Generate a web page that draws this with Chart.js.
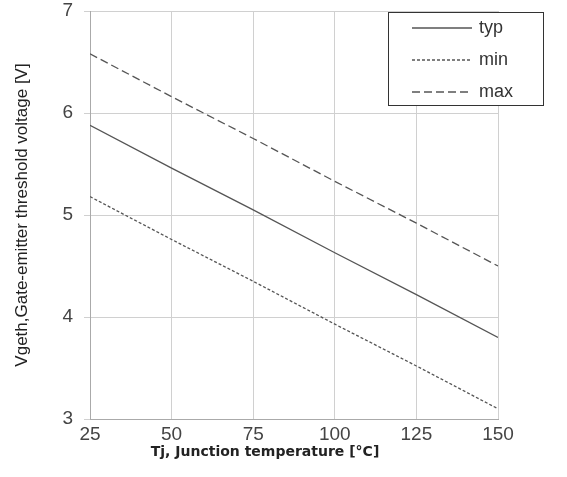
<!DOCTYPE html>
<html>
<head>
<meta charset="utf-8">
<script src="https://cdn.jsdelivr.net/npm/chart.js@4/dist/chart.umd.min.js"></script>
<style>
	html, body { margin: 0; padding: 0; background: #ffffff; }
	#wrap { width: 567px; height: 477px; }
</style>
</head>
<body>
<div id="wrap"><canvas id="vgeth"></canvas></div>
<script>
// junction temperature [°C]
const temps = [25, 50, 75, 100, 125, 150];
// gate-emitter threshold voltage [V]
const typValues = [5.88, 5.46, 5.05, 4.63, 4.22, 3.80];
const minValues = [5.18, 4.76, 4.35, 3.93, 3.52, 3.10];
const maxValues = [6.58, 6.16, 5.75, 5.33, 4.92, 4.50];
const seriesLabels = ["typ", "min", "max"];
const xTitle = "Tj, Junction temperature [°C]";
const yTitle = "Vgeth,Gate-emitter threshold voltage [V]";

const lineColour = "#555555";
const gridColour = "#d0d0d0";
const textColour = "#444444";
const tickFont = { family: "'Liberation Sans', Arial, sans-serif", size: 19 };

function toPoints(values) {
	return temps.map((t, i) => ({ x: t, y: values[i] }));
}

// legend box inside the plot area (top right) and the x axis title
const boxLegend = {
	id: "boxLegend",
	afterDraw(chart) {
		const ctx = chart.ctx;
		const x0 = 388, y0 = 12, w = 155, h = 93;
		ctx.save();
		ctx.fillStyle = "#ffffff";
		ctx.fillRect(x0, y0, w, h);
		ctx.strokeStyle = "#333333";
		ctx.lineWidth = 1;
		ctx.strokeRect(x0 + 0.5, y0 + 0.5, w, h);
		ctx.font = "18px 'Liberation Sans', Arial, sans-serif";
		ctx.textBaseline = "middle";
		chart.data.datasets.forEach((ds, i) => {
			const y = 28 + i * 32;
			ctx.beginPath();
			ctx.setLineDash(ds.borderDash || []);
			ctx.strokeStyle = ds.borderColor;
			ctx.lineWidth = ds.borderWidth;
			ctx.moveTo(412, y);
			ctx.lineTo(472, y);
			ctx.stroke();
			ctx.setLineDash([]);
			ctx.fillStyle = "#333333";
			ctx.fillText(ds.label, 479, y);
		});
		// x axis title, set a little left of the plot centre like the original
		ctx.font = "bold 14px 'DejaVu Sans', sans-serif";
		ctx.fillStyle = "#222222";
		ctx.textAlign = "center";
		ctx.fillText(xTitle, 265, 452);
		ctx.restore();
	},
};

const ctx = document.getElementById("vgeth");
new Chart(ctx, {
	type: "line",
	data: {
		datasets: [
			{ label: seriesLabels[0], data: toPoints(typValues), borderColor: lineColour, borderWidth: 1.3, borderDash: [], pointRadius: 0 },
			{ label: seriesLabels[1], data: toPoints(minValues), borderColor: lineColour, borderWidth: 1.3, borderDash: [3, 2], pointRadius: 0 },
			{ label: seriesLabels[2], data: toPoints(maxValues), borderColor: lineColour, borderWidth: 1.3, borderDash: [8, 4], pointRadius: 0 },
		],
	},
	options: {
		responsive: true,
		maintainAspectRatio: false,
		animation: false,
		layout: {
			padding: { top: 11, right: 69, bottom: 14, left: 12 },
		},
		plugins: {
			legend: { display: false },
			tooltip: { enabled: false },
		},
		scales: {
			x: {
				type: "linear",
				min: 25,
				max: 150,
				ticks: {
					stepSize: 25,
					color: textColour,
					padding: 4,
					font: tickFont,
				},
				grid: { color: gridColour, lineWidth: 1, drawTicks: false },
				border: { color: "#aaaaaa" },
				afterFit(scale) {
					scale.height = 477 - 419 - 14;
				},
			},
			y: {
				min: 3,
				max: 7,
				ticks: {
					stepSize: 1,
					color: textColour,
					padding: 11,
					font: tickFont,
				},
				grid: { color: gridColour, lineWidth: 1, tickLength: 6 },
				border: { color: "#aaaaaa" },
				title: {
					display: true,
					text: yTitle,
					color: "#222222",
					padding: 0,
					font: { family: "'Liberation Sans', sans-serif", size: 17 },
				},
				afterFit(scale) {
					scale.width = 90 - 12;
					// top label may stick out above the plot, as in the original
					scale.paddingTop = 0;
				},
			},
		},
	},
	plugins: [boxLegend],
});
</script>
</body>
</html>
